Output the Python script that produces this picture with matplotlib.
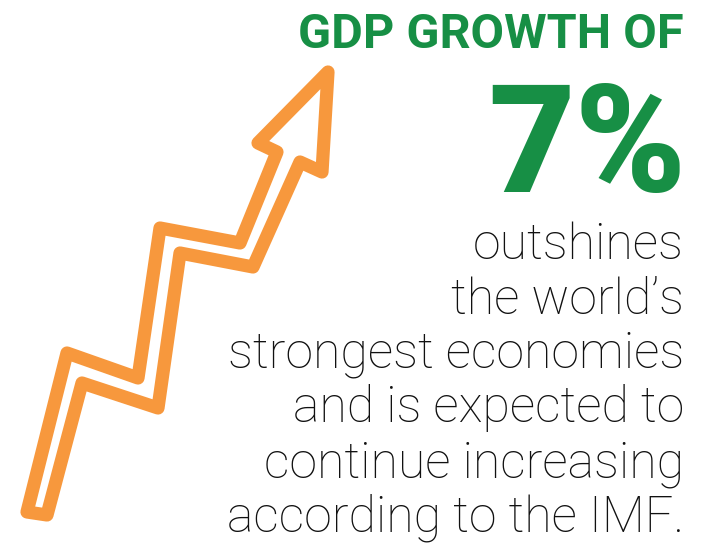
import matplotlib
matplotlib.use('Agg')
import matplotlib.pyplot as plt
from matplotlib.patches import Polygon

# zig-zag arrow outline (pixel coords, y down)
arrow_x = [27, 67, 138, 160, 240, 277, 258, 328, 322, 300, 253, 180, 158, 82, 47]
arrow_y = [512, 353, 378, 228, 243, 152, 143, 72, 172, 162, 267, 253, 408, 383, 515]

title = 'GDP GROWTH OF'
big_value = '7%'
body_lines = ['outshines', 'the world\u2019s', 'strongest economies',
              'and is expected to', 'continue increasing', 'according to the IMF.']

green = '#178F45'
orange = '#F7983D'

fig = plt.figure(figsize=(7.01, 5.45), dpi=100)
ax = fig.add_axes([0, 0, 1, 1])
ax.set_xlim(0, 701)
ax.set_ylim(545, 0)
ax.axis('off')

pts = list(zip(arrow_x, arrow_y))
ax.add_patch(Polygon(pts, closed=True, facecolor='white', edgecolor=orange,
                     linewidth=9.5, joinstyle='round'))

ax.text(684, 48, title, ha='right', va='baseline', color=green,
        fontsize=35, fontweight='bold', family='Roboto')
ax.text(686, 192, big_value, ha='right', va='baseline', color=green,
        fontsize=108, fontweight='heavy', family='Roboto')

for i, line in enumerate(body_lines):
    ax.text(684, 259 + i * 54.5, line, ha='right', va='baseline', color='#111111',
            fontsize=36, fontweight='light', family='Roboto')

fig.savefig('out.png', dpi=100)
